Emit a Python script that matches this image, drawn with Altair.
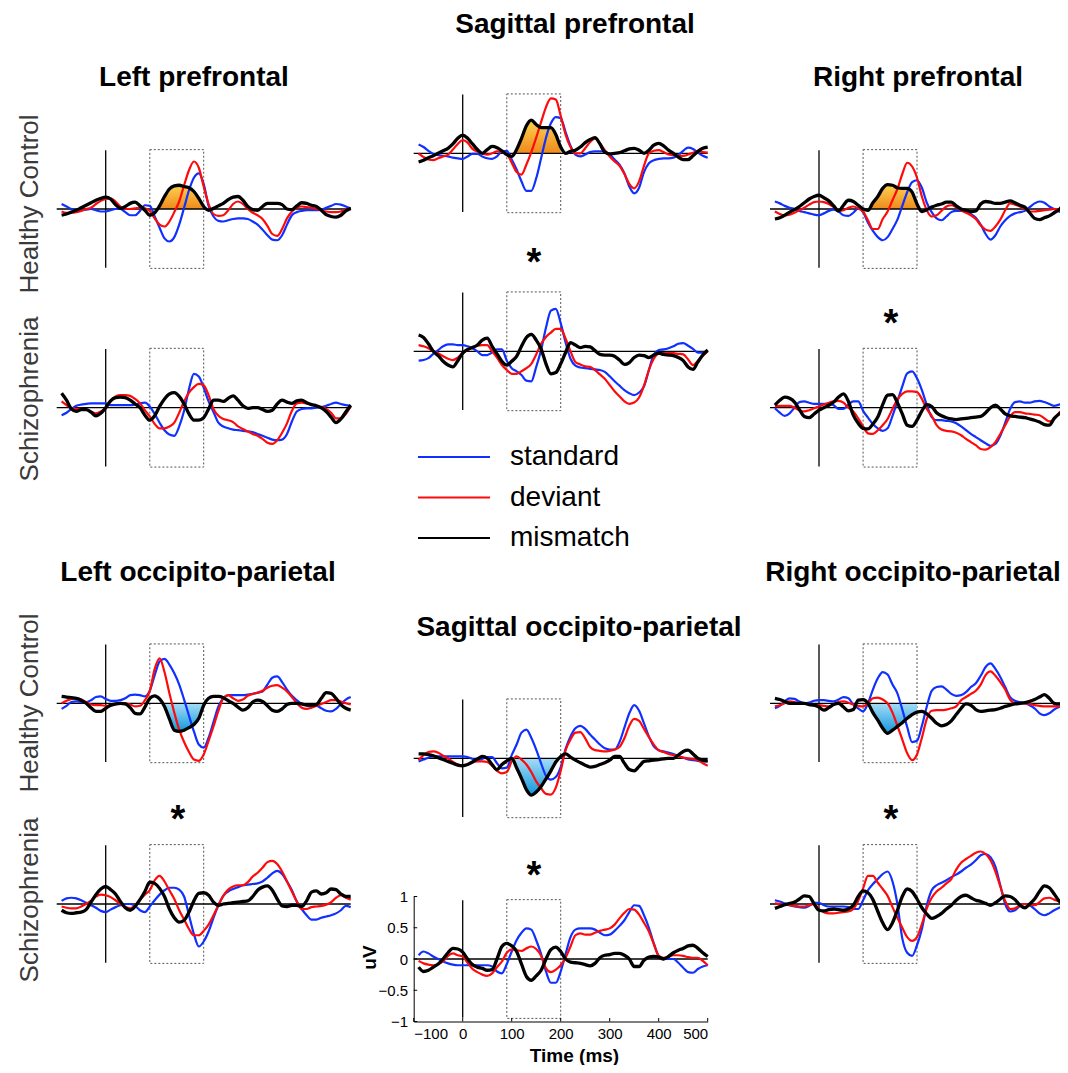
import altair as alt
import pandas as pd

T = list(range(-90, 501, 10))
SERIES_NAMES = ["standard", "deviant", "mismatch"]

# ---------------- Left prefrontal ----------------
LPF_HC_STD = [0.08, 0.04, 0.0, -0.02, -0.02, -0.01, 0.0, -0.02, -0.04, -0.04,
              -0.02, 0.0, 0.0, -0.05, -0.1, -0.1, -0.03, 0.06, 0.05, -0.12,
              -0.3, -0.47, -0.52, -0.45, -0.25, 0.02, 0.3, 0.5, 0.57, 0.4,
              0.05, -0.12, -0.19, -0.2, -0.18, -0.16, -0.15, -0.15, -0.16, -0.2,
              -0.25, -0.33, -0.42, -0.49, -0.5, -0.42, -0.25, -0.1, -0.05, -0.03,
              -0.02, -0.02, -0.02, -0.01, 0.02, 0.05, 0.08, 0.07, 0.04, 0.01]
LPF_HC_DEV = [-0.04, -0.06, -0.06, -0.05, -0.03, 0.0, 0.02, 0.08, 0.13, 0.16,
              0.17, 0.12, 0.04, 0.0, 0.0, 0.01, 0.02, 0.01, -0.03, -0.15,
              -0.25, -0.28, -0.2, -0.05, 0.12, 0.38, 0.62, 0.76, 0.66, 0.36,
              0.08, -0.08, -0.11, -0.1, -0.02, 0.08, 0.12, 0.08, 0.0, -0.06,
              -0.1, -0.16, -0.27, -0.4, -0.43, -0.32, -0.15, -0.04, 0.02, 0.04,
              0.03, 0.02, 0.0, -0.02, -0.04, -0.05, -0.05, -0.04, -0.01, 0.01]
LPF_HC_MIS = [-0.1, -0.08, -0.05, -0.02, 0.02, 0.06, 0.1, 0.14, 0.17, 0.19,
              0.16, 0.07, 0.01, 0.04, 0.09, 0.11, 0.05, -0.02, -0.1, -0.06,
              0.05, 0.2, 0.32, 0.37, 0.38, 0.36, 0.34, 0.28, 0.17, 0.04,
              -0.02, 0.01, 0.05, 0.09, 0.15, 0.19, 0.2, 0.14, 0.04, -0.01,
              -0.02, 0.04, 0.09, 0.09, 0.09, 0.07, 0.0, -0.01, 0.05, 0.1,
              0.09, 0.06, 0.04, -0.02, -0.09, -0.12, -0.13, -0.1, -0.03, 0.01]
LPF_SZ_STD = [-0.12, -0.08, -0.02, 0.03, 0.05, 0.06, 0.07, 0.07, 0.07, 0.07,
              0.04, 0.04, 0.04, 0.04, 0.04, 0.05, 0.07, 0.08, 0.02, -0.1,
              -0.24, -0.36, -0.43, -0.45, -0.3, -0.05, 0.3, 0.54, 0.5, 0.32,
              0.1, -0.07, -0.24, -0.3, -0.33, -0.35, -0.36, -0.37, -0.38, -0.39,
              -0.42, -0.45, -0.48, -0.51, -0.52, -0.51, -0.42, -0.22, -0.06, -0.02,
              -0.01, -0.01, 0.0, 0.01, 0.03, 0.06, 0.08, 0.06, 0.04, 0.03]
LPF_SZ_DEV = [0.1, 0.04, -0.01, -0.02, -0.02, -0.03, -0.06, -0.09, -0.06, 0.0,
              0.1, 0.18, 0.2, 0.2, 0.19, 0.14, 0.07, -0.04, -0.14, -0.26,
              -0.33, -0.33, -0.3, -0.24, -0.08, 0.1, 0.24, 0.33, 0.38, 0.36,
              0.2, -0.02, -0.13, -0.18, -0.2, -0.23, -0.3, -0.34, -0.38, -0.42,
              -0.45, -0.5, -0.56, -0.58, -0.52, -0.4, -0.25, -0.05, 0.07, 0.08,
              0.07, 0.05, 0.03, 0.01, -0.02, -0.08, -0.17, -0.17, -0.1, 0.02]
LPF_SZ_MIS = [0.23, 0.12, -0.02, -0.06, -0.03, -0.03, -0.07, -0.13, -0.09, 0.0,
              0.11, 0.16, 0.17, 0.16, 0.12, 0.06, 0.0, -0.12, -0.2, -0.13,
              0.02, 0.14, 0.22, 0.24, 0.18, 0.06, -0.1, -0.2, -0.2, -0.16,
              -0.02, 0.12, 0.12, 0.1, 0.15, 0.19, 0.12, 0.03, -0.01, 0.0,
              0.0, -0.03, -0.06, -0.04, 0.06, 0.12, 0.09, 0.07, 0.11, 0.12,
              0.08, 0.05, 0.03, 0.0, -0.06, -0.15, -0.24, -0.18, -0.07, 0.04]

# ---------------- Sagittal prefrontal ----------------
SPF_HC_STD = [0.14, 0.1, 0.04, -0.01, -0.03, -0.04, -0.05, -0.07, -0.08, -0.09,
              -0.05, -0.01, -0.01, -0.05, -0.08, -0.09, -0.05, 0.03, 0.04, -0.1,
              -0.26, -0.45, -0.6, -0.6, -0.4, -0.08, 0.25, 0.48, 0.58, 0.56,
              0.34, 0.12, -0.02, -0.05, -0.02, 0.02, 0.03, 0.03, 0.03, -0.02,
              -0.1, -0.18, -0.32, -0.53, -0.64, -0.55, -0.3, -0.16, -0.11, -0.09,
              -0.08, -0.08, -0.07, -0.03, 0.04, 0.09, 0.07, 0.01, -0.04, -0.07]
SPF_HC_DEV = [0.0, -0.06, -0.1, -0.11, -0.08, -0.05, -0.02, 0.06, 0.15, 0.21,
              0.17, 0.07, 0.03, 0.0, -0.02, 0.0, 0.03, 0.02, -0.01, -0.15,
              -0.3, -0.34, -0.18, 0.02, 0.25, 0.5, 0.74, 0.88, 0.86, 0.6,
              0.3, 0.1, 0.0, 0.0, 0.08, 0.18, 0.24, 0.16, 0.05, -0.05,
              -0.13, -0.2, -0.33, -0.49, -0.56, -0.45, -0.2, 0.0, 0.04, 0.05,
              0.02, -0.02, -0.03, -0.04, -0.04, -0.02, 0.01, 0.03, 0.02, 0.01]
SPF_HC_MIS = [-0.14, -0.11, -0.07, -0.04, 0.0, 0.04, 0.08, 0.15, 0.24, 0.29,
              0.24, 0.15, 0.06, 0.0, 0.06, 0.11, 0.09, 0.04, -0.02, -0.05,
              0.06, 0.24, 0.44, 0.53, 0.46, 0.41, 0.41, 0.41, 0.3, 0.1,
              0.0, 0.03, 0.05, 0.1, 0.17, 0.22, 0.25, 0.15, 0.02, -0.01,
              0.0, 0.01, 0.04, 0.07, 0.08, 0.05, 0.0, 0.05, 0.13, 0.16,
              0.12, 0.05, 0.0, -0.06, -0.1, -0.1, -0.04, 0.03, 0.08, 0.1]
SPF_SZ_STD = [-0.15, -0.14, -0.11, -0.04, 0.02, 0.08, 0.11, 0.11, 0.1, 0.1,
              0.08, 0.05, 0.0, -0.06, -0.06, -0.02, 0.03, 0.03, -0.15, -0.27,
              -0.32, -0.38, -0.47, -0.48, -0.25, 0.02, 0.38, 0.65, 0.68, 0.45,
              0.14, -0.12, -0.23, -0.26, -0.27, -0.28, -0.29, -0.3, -0.33, -0.4,
              -0.48, -0.55, -0.62, -0.67, -0.7, -0.66, -0.56, -0.3, -0.05, 0.02,
              0.03, 0.05, 0.08, 0.12, 0.13, 0.09, 0.04, -0.02, -0.02, 0.01]
SPF_SZ_DEV = [0.1, 0.08, 0.05, 0.0, -0.03, -0.08, -0.12, -0.14, -0.1, -0.03,
              0.02, 0.06, 0.09, 0.1, 0.1, 0.0, -0.1, -0.22, -0.3, -0.36,
              -0.36, -0.32, -0.27, -0.2, -0.05, 0.12, 0.23, 0.3, 0.36, 0.36,
              0.2, 0.0, -0.17, -0.21, -0.24, -0.25, -0.3, -0.37, -0.44, -0.54,
              -0.64, -0.72, -0.8, -0.84, -0.82, -0.74, -0.55, -0.3, -0.12, -0.04,
              -0.03, -0.03, -0.03, -0.04, -0.05, -0.13, -0.22, -0.15, -0.07, 0.0]
SPF_SZ_MIS = [0.26, 0.22, 0.12, 0.0, -0.07, -0.16, -0.22, -0.25, -0.15, -0.03,
              0.03, 0.06, 0.1, 0.18, 0.21, 0.08, -0.04, -0.16, -0.22, -0.16,
              -0.08, 0.08, 0.22, 0.27, 0.18, 0.04, -0.2, -0.36, -0.34, -0.2,
              -0.02, 0.14, 0.1, 0.06, 0.08, 0.07, 0.01, -0.05, -0.06, -0.06,
              -0.08, -0.14, -0.21, -0.18, -0.1, -0.06, -0.07, -0.1, -0.06, -0.03,
              -0.05, -0.06, -0.07, -0.1, -0.15, -0.25, -0.29, -0.17, -0.06, 0.02]

# ---------------- Right prefrontal ----------------
RPF_HC_STD = [0.12, 0.09, 0.05, 0.02, 0.0, -0.03, -0.05, -0.07, -0.09, -0.1,
              -0.07, -0.03, -0.01, -0.04, -0.1, -0.11, -0.06, 0.01, -0.05, -0.22,
              -0.35, -0.45, -0.5, -0.45, -0.32, -0.17, 0.05, 0.27, 0.43, 0.46,
              0.34, 0.1, -0.05, -0.15, -0.18, -0.12, -0.05, -0.03, -0.03, -0.04,
              -0.08, -0.14, -0.25, -0.4, -0.49, -0.42, -0.28, -0.18, -0.11, -0.07,
              -0.05, -0.03, 0.03, 0.09, 0.12, 0.1, 0.04, 0.0, -0.04, -0.07]
RPF_HC_DEV = [-0.04, -0.08, -0.1, -0.09, -0.06, -0.02, 0.02, 0.07, 0.11, 0.12,
              0.11, 0.08, 0.03, -0.03, -0.02, 0.02, 0.04, 0.01, -0.04, -0.18,
              -0.32, -0.32, -0.16, -0.04, 0.14, 0.32, 0.56, 0.74, 0.68, 0.5,
              0.2, -0.02, -0.12, -0.1, -0.03, 0.04, 0.06, 0.03, -0.02, -0.06,
              -0.1, -0.16, -0.26, -0.33, -0.35, -0.28, -0.17, -0.02, 0.09, 0.07,
              0.04, 0.0, -0.04, -0.04, -0.03, -0.02, -0.01, 0.0, 0.0, 0.0]
RPF_HC_MIS = [-0.16, -0.14, -0.1, -0.05, -0.01, 0.04, 0.1, 0.16, 0.2, 0.22,
              0.18, 0.13, 0.05, -0.03, 0.06, 0.14, 0.12, 0.06, 0.0, -0.02,
              0.1, 0.2, 0.33, 0.39, 0.38, 0.34, 0.33, 0.33, 0.27, 0.08,
              -0.04, -0.01, 0.03, 0.06, 0.08, 0.11, 0.11, 0.05, 0.0, -0.02,
              -0.04, -0.03, 0.08, 0.12, 0.11, 0.09, 0.09, 0.11, 0.13, 0.1,
              0.06, 0.03, -0.06, -0.15, -0.17, -0.14, -0.11, -0.06, -0.01, 0.08]
RPF_SZ_STD = [-0.01, -0.08, -0.13, -0.09, 0.0, 0.09, 0.1, 0.08, 0.06, 0.06,
              0.06, 0.06, 0.04, -0.02, -0.02, 0.05, 0.1, 0.1, -0.05, -0.16,
              -0.26, -0.33, -0.37, -0.33, -0.13, 0.1, 0.34, 0.55, 0.58, 0.47,
              0.28, 0.04, -0.15, -0.2, -0.2, -0.21, -0.22, -0.25, -0.3, -0.36,
              -0.42, -0.47, -0.52, -0.57, -0.61, -0.58, -0.45, -0.24, -0.02, 0.09,
              0.1, 0.08, 0.08, 0.1, 0.11, 0.09, 0.06, 0.03, 0.05, 0.07]
RPF_SZ_DEV = [0.02, 0.03, 0.03, 0.03, 0.0, -0.04, -0.06, -0.04, -0.01, 0.02,
              0.05, 0.08, 0.1, 0.11, 0.08, 0.0, -0.06, -0.17, -0.3, -0.41,
              -0.42, -0.36, -0.28, -0.18, -0.02, 0.13, 0.22, 0.26, 0.26, 0.25,
              0.14, -0.02, -0.13, -0.28, -0.35, -0.37, -0.38, -0.4, -0.44, -0.5,
              -0.55, -0.6, -0.66, -0.67, -0.63, -0.55, -0.42, -0.28, -0.14, -0.07,
              -0.07, -0.09, -0.1, -0.11, -0.12, -0.17, -0.22, -0.18, -0.08, -0.02]
RPF_SZ_MIS = [0.04, 0.12, 0.17, 0.15, 0.09, -0.03, -0.14, -0.16, -0.1, -0.04,
              0.0, 0.04, 0.09, 0.17, 0.22, 0.1, -0.12, -0.25, -0.33, -0.34,
              -0.26, -0.15, 0.05, 0.2, 0.21, 0.08, -0.1, -0.28, -0.3, -0.2,
              -0.05, 0.05, 0.02, -0.08, -0.13, -0.16, -0.18, -0.19, -0.18, -0.17,
              -0.16, -0.15, -0.14, -0.08, 0.0, 0.04, -0.02, -0.1, -0.13, -0.14,
              -0.15, -0.16, -0.18, -0.2, -0.23, -0.27, -0.28, -0.17, -0.1, -0.05]

# ---------------- Left occipito-parietal ----------------
LOP_HC_STD = [-0.09, -0.04, 0.02, 0.03, 0.02, 0.02, 0.05, 0.1, 0.11, 0.07,
              0.04, 0.04, 0.05, 0.08, 0.13, 0.14, 0.13, 0.11, 0.2, 0.45,
              0.67, 0.71, 0.62, 0.48, 0.3, 0.06, -0.2, -0.45, -0.66, -0.71,
              -0.55, -0.3, -0.05, 0.08, 0.13, 0.13, 0.13, 0.13, 0.14, 0.15,
              0.17, 0.19, 0.3, 0.41, 0.43, 0.34, 0.22, 0.12, 0.05, -0.01,
              -0.03, -0.04, -0.04, -0.08, -0.12, -0.13, -0.09, -0.01, 0.06, 0.1]
LOP_HC_DEV = [0.0, 0.04, 0.07, 0.08, 0.06, 0.02, -0.02, -0.03, -0.03, -0.04,
              -0.04, -0.02, 0.0, 0.0, -0.02, -0.05, -0.04, 0.05, 0.2, 0.55,
              0.72, 0.5, 0.16, -0.15, -0.42, -0.62, -0.78, -0.9, -0.92, -0.82,
              -0.6, -0.37, -0.12, 0.08, 0.13, 0.08, 0.04, 0.06, 0.12, 0.15,
              0.17, 0.2, 0.25, 0.28, 0.29, 0.25, 0.19, 0.1, 0.0, -0.07,
              -0.09, -0.07, -0.04, -0.01, 0.02, 0.05, 0.05, 0.03, 0.0, -0.02]
LOP_HC_MIS = [0.11, 0.1, 0.09, 0.08, 0.05, 0.0, -0.07, -0.13, -0.13, -0.08,
              -0.03, -0.01, 0.0, -0.01, -0.07, -0.16, -0.17, -0.06, 0.08, 0.12,
              0.07, -0.05, -0.25, -0.43, -0.45, -0.43, -0.39, -0.34, -0.24, -0.03,
              0.08, 0.11, 0.11, 0.09, 0.04, 0.0, -0.06, -0.11, -0.07, 0.02,
              0.05, 0.03, -0.04, -0.11, -0.13, -0.09, -0.02, 0.0, 0.0, -0.01,
              -0.03, -0.03, -0.02, 0.08, 0.17, 0.16, 0.08, -0.02, -0.08, -0.11]
LOP_SZ_STD = [0.05, 0.09, 0.1, 0.09, 0.06, 0.02, -0.02, -0.06, -0.11, -0.13,
              -0.09, -0.05, -0.02, 0.0, 0.0, -0.03, -0.1, -0.13, -0.04, 0.06,
              0.15, 0.22, 0.26, 0.26, 0.23, 0.12, -0.18, -0.48, -0.68, -0.6,
              -0.44, -0.22, -0.02, 0.13, 0.2, 0.24, 0.27, 0.3, 0.31, 0.32,
              0.33, 0.36, 0.42, 0.49, 0.53, 0.48, 0.36, 0.22, 0.04, -0.08,
              -0.18, -0.25, -0.25, -0.22, -0.2, -0.18, -0.15, -0.1, -0.03, -0.05]
LOP_SZ_DEV = [-0.04, -0.06, -0.07, -0.07, -0.04, 0.0, 0.05, 0.12, 0.15, 0.14,
              0.11, 0.06, 0.0, -0.05, -0.07, -0.02, 0.07, 0.15, 0.22, 0.38,
              0.45, 0.36, 0.22, 0.08, -0.1, -0.25, -0.4, -0.5, -0.5, -0.43,
              -0.33, -0.18, -0.02, 0.13, 0.23, 0.28, 0.3, 0.3, 0.35, 0.44,
              0.5, 0.58, 0.67, 0.69, 0.64, 0.52, 0.36, 0.2, 0.04, -0.08,
              -0.08, -0.05, -0.04, -0.03, -0.01, 0.03, 0.1, 0.14, 0.1, 0.07]
LOP_SZ_MIS = [-0.1, -0.14, -0.15, -0.14, -0.13, -0.09, 0.03, 0.15, 0.24, 0.28,
              0.23, 0.16, 0.04, -0.06, -0.1, -0.04, 0.07, 0.2, 0.35, 0.33,
              0.25, 0.12, -0.08, -0.22, -0.29, -0.26, -0.13, 0.05, 0.17, 0.18,
              0.14, 0.03, -0.02, 0.0, 0.01, 0.02, 0.03, 0.04, 0.05, 0.12,
              0.22, 0.27, 0.29, 0.22, 0.08, -0.03, -0.04, -0.02, -0.02, -0.04,
              0.05, 0.19, 0.21, 0.16, 0.18, 0.24, 0.23, 0.16, 0.12, 0.12]

# ---------------- Sagittal occipito-parietal ----------------
SOP_HC_STD = [-0.05, -0.02, 0.01, 0.03, 0.03, 0.03, 0.03, 0.03, 0.03, 0.03,
              0.02, -0.01, -0.03, -0.01, 0.02, 0.02, -0.08, -0.16, -0.15, 0.05,
              0.22, 0.41, 0.46, 0.33, 0.14, -0.08, -0.28, -0.34, -0.3, -0.14,
              0.15, 0.35, 0.48, 0.52, 0.47, 0.38, 0.3, 0.22, 0.16, 0.14,
              0.14, 0.26, 0.49, 0.72, 0.85, 0.76, 0.56, 0.35, 0.19, 0.13,
              0.11, 0.09, 0.07, 0.04, 0.01, -0.02, -0.03, -0.04, -0.05, -0.05]
SOP_HC_DEV = [-0.03, 0.05, 0.1, 0.11, 0.09, 0.04, 0.0, -0.06, -0.1, -0.12,
              -0.1, -0.06, -0.05, -0.05, -0.06, -0.12, -0.2, -0.24, -0.22, -0.05,
              0.03, -0.02, -0.1, -0.22, -0.37, -0.48, -0.57, -0.58, -0.47, -0.2,
              0.13, 0.3, 0.41, 0.42, 0.32, 0.18, 0.13, 0.12, 0.11, 0.12,
              0.14, 0.18, 0.32, 0.52, 0.63, 0.6, 0.47, 0.34, 0.22, 0.13,
              0.1, 0.07, 0.05, 0.03, 0.01, 0.0, -0.01, -0.03, -0.08, -0.12]
SOP_HC_MIS = [0.07, 0.07, 0.06, 0.04, 0.01, -0.02, -0.05, -0.08, -0.11, -0.12,
              -0.1, -0.06, -0.01, 0.03, 0.0, -0.1, -0.18, -0.1, -0.04, 0.0,
              -0.15, -0.32, -0.5, -0.59, -0.54, -0.45, -0.33, -0.2, -0.06, 0.03,
              0.07, 0.02, -0.03, -0.07, -0.11, -0.14, -0.13, -0.1, -0.07, -0.03,
              0.03, 0.03, -0.08, -0.18, -0.2, -0.13, -0.05, -0.04, -0.03, -0.02,
              -0.01, 0.0, 0.0, 0.05, 0.11, 0.13, 0.07, 0.0, -0.03, -0.04]
SOP_SZ_STD = [0.06, 0.12, 0.09, 0.04, 0.0, -0.04, -0.07, -0.09, -0.1, -0.1,
              -0.1, -0.1, -0.1, -0.1, -0.1, -0.12, -0.2, -0.23, -0.08, 0.12,
              0.3, 0.42, 0.49, 0.47, 0.3, 0.08, -0.2, -0.38, -0.38, -0.2,
              0.08, 0.35, 0.47, 0.49, 0.49, 0.49, 0.47, 0.42, 0.38, 0.39,
              0.45, 0.53, 0.62, 0.75, 0.86, 0.85, 0.7, 0.5, 0.25, 0.05,
              0.0, 0.0, 0.0, -0.06, -0.14, -0.21, -0.22, -0.16, -0.12, -0.1]
SOP_SZ_DEV = [-0.03, -0.07, -0.09, -0.1, -0.08, -0.04, 0.05, 0.09, 0.06, 0.04,
              -0.06, -0.16, -0.21, -0.25, -0.27, -0.23, -0.13, -0.04, 0.1, 0.15,
              0.14, 0.13, 0.17, 0.2, 0.16, 0.05, -0.15, -0.21, -0.17, -0.1,
              0.02, 0.2, 0.38, 0.41, 0.39, 0.39, 0.42, 0.45, 0.47, 0.49,
              0.55, 0.65, 0.74, 0.8, 0.79, 0.71, 0.58, 0.44, 0.24, 0.05,
              0.02, 0.04, 0.06, 0.06, 0.05, 0.03, 0.02, 0.02, -0.03, -0.1]
SOP_SZ_MIS = [-0.13, -0.2, -0.18, -0.13, -0.08, 0.0, 0.1, 0.17, 0.16, 0.11,
              0.0, -0.09, -0.13, -0.15, -0.18, -0.17, 0.0, 0.2, 0.25, 0.21,
              0.12, -0.08, -0.28, -0.34, -0.27, -0.18, 0.0, 0.15, 0.19, 0.12,
              0.0, -0.05, -0.06, -0.07, -0.09, -0.11, -0.07, 0.02, 0.06, 0.07,
              0.09, 0.09, 0.06, 0.0, -0.12, -0.12, -0.02, 0.03, 0.04, 0.03,
              0.0, 0.04, 0.1, 0.14, 0.17, 0.21, 0.22, 0.17, 0.1, 0.04]

# ---------------- Right occipito-parietal ----------------
ROP_HC_STD = [-0.08, -0.04, 0.03, 0.08, 0.07, 0.03, 0.0, 0.01, 0.04, 0.05,
              0.05, 0.04, 0.03, 0.06, 0.1, 0.08, -0.02, -0.08, -0.13, 0.0,
              0.22, 0.4, 0.5, 0.46, 0.3, 0.16, -0.1, -0.38, -0.62, -0.6,
              -0.36, -0.05, 0.2, 0.26, 0.27, 0.22, 0.15, 0.12, 0.13, 0.18,
              0.26, 0.32, 0.44, 0.58, 0.64, 0.55, 0.42, 0.26, 0.1, 0.04,
              0.02, 0.0, -0.03, -0.08, -0.16, -0.19, -0.16, -0.1, -0.06, -0.04]
ROP_HC_DEV = [-0.05, -0.03, 0.0, 0.03, 0.02, 0.0, 0.0, -0.02, -0.03, -0.03,
              -0.04, -0.05, -0.02, 0.02, 0.03, 0.01, -0.02, -0.04, -0.05, 0.0,
              0.08, 0.09, 0.06, 0.0, -0.15, -0.36, -0.58, -0.8, -0.91, -0.82,
              -0.55, -0.25, -0.12, -0.11, -0.11, -0.1, -0.08, -0.05, 0.05, 0.1,
              0.15, 0.2, 0.3, 0.45, 0.51, 0.44, 0.34, 0.22, 0.06, 0.0,
              0.0, 0.0, -0.01, -0.03, -0.04, -0.05, -0.05, -0.05, -0.05, -0.05]
ROP_HC_MIS = [0.08, 0.06, 0.03, 0.0, 0.0, 0.0, 0.0, -0.02, -0.03, -0.06,
              -0.11, -0.07, -0.02, 0.0, -0.06, -0.12, -0.1, 0.05, 0.06, 0.0,
              -0.15, -0.27, -0.4, -0.48, -0.43, -0.37, -0.31, -0.24, -0.18, -0.14,
              -0.13, -0.17, -0.24, -0.32, -0.36, -0.34, -0.28, -0.18, -0.08, -0.01,
              -0.03, -0.1, -0.13, -0.12, -0.11, -0.1, -0.08, -0.05, -0.03, -0.01,
              0.0, 0.01, 0.03, 0.06, 0.1, 0.14, 0.08, 0.0, -0.01, 0.02]
ROP_SZ_STD = [0.06, 0.04, 0.01, -0.02, -0.04, -0.05, -0.06, -0.03, 0.02, 0.02,
              -0.02, -0.04, -0.04, -0.04, -0.04, -0.05, -0.08, -0.08, 0.06, 0.22,
              0.32, 0.4, 0.48, 0.52, 0.36, 0.0, -0.55, -0.78, -0.83, -0.66,
              -0.4, -0.02, 0.22, 0.3, 0.34, 0.38, 0.43, 0.47, 0.52, 0.58,
              0.63, 0.7, 0.78, 0.8, 0.75, 0.6, 0.3, 0.0, -0.12, -0.1,
              -0.03, 0.0, -0.02, -0.08, -0.15, -0.18, -0.15, -0.1, -0.06, -0.03]
ROP_SZ_DEV = [0.01, 0.0, -0.01, -0.02, -0.03, -0.04, -0.04, -0.02, 0.0, -0.08,
              -0.13, -0.15, -0.15, -0.14, -0.13, -0.12, -0.08, 0.05, 0.25, 0.45,
              0.45, 0.34, 0.24, 0.13, -0.05, -0.22, -0.38, -0.53, -0.59, -0.53,
              -0.32, -0.07, 0.1, 0.2, 0.26, 0.33, 0.4, 0.55, 0.66, 0.72,
              0.77, 0.82, 0.84, 0.8, 0.7, 0.52, 0.28, 0.05, -0.08, -0.07,
              -0.02, 0.0, -0.02, -0.02, 0.03, 0.09, 0.1, 0.07, 0.04, 0.0]
ROP_SZ_MIS = [-0.07, -0.04, -0.01, 0.01, 0.03, 0.08, 0.13, 0.12, 0.0, -0.1,
              -0.11, -0.09, -0.08, -0.09, -0.1, -0.08, -0.02, 0.12, 0.21, 0.18,
              0.07, -0.12, -0.3, -0.41, -0.3, -0.1, 0.12, 0.24, 0.2, 0.08,
              -0.06, -0.16, -0.23, -0.2, -0.15, -0.08, -0.02, 0.06, 0.12, 0.14,
              0.1, 0.06, 0.04, 0.01, -0.02, 0.02, 0.08, 0.13, 0.12, 0.07,
              -0.02, -0.06, 0.0, 0.08, 0.2, 0.29, 0.26, 0.16, 0.05, -0.02]

SERIES = {
    "lpf_hc": (LPF_HC_STD, LPF_HC_DEV, LPF_HC_MIS),
    "lpf_sz": (LPF_SZ_STD, LPF_SZ_DEV, LPF_SZ_MIS),
    "spf_hc": (SPF_HC_STD, SPF_HC_DEV, SPF_HC_MIS),
    "spf_sz": (SPF_SZ_STD, SPF_SZ_DEV, SPF_SZ_MIS),
    "rpf_hc": (RPF_HC_STD, RPF_HC_DEV, RPF_HC_MIS),
    "rpf_sz": (RPF_SZ_STD, RPF_SZ_DEV, RPF_SZ_MIS),
    "lop_hc": (LOP_HC_STD, LOP_HC_DEV, LOP_HC_MIS),
    "lop_sz": (LOP_SZ_STD, LOP_SZ_DEV, LOP_SZ_MIS),
    "sop_hc": (SOP_HC_STD, SOP_HC_DEV, SOP_HC_MIS),
    "sop_sz": (SOP_SZ_STD, SOP_SZ_DEV, SOP_SZ_MIS),
    "rop_hc": (ROP_HC_STD, ROP_HC_DEV, ROP_HC_MIS),
    "rop_sz": (ROP_SZ_STD, ROP_SZ_DEV, ROP_SZ_MIS),
}

TITLES = ["Sagittal prefrontal", "Left prefrontal", "Right prefrontal",
          "Left occipito-parietal", "Right occipito-parietal",
          "Sagittal occipito-parietal"]
GROUPS = ["Healthy Control", "Schizophrenia"]
X_TICKS = [-100, 0, 100, 200, 300, 400, 500]
Y_TICKS = [-1, -0.5, 0, 0.5, 1]

rows = []
for key, arrs in SERIES.items():
    for name, arr in zip(SERIES_NAMES, arrs):
        assert len(arr) == len(T), (key, name, len(arr))
        for t, v in zip(T, arr):
            rows.append({"panel": key, "series": name, "t": t, "v": v})
DF = pd.DataFrame(rows)
ONE = pd.DataFrame({"k": [0]})
XT = pd.DataFrame({"tick": X_TICKS})
YT = pd.DataFrame({"ytick": Y_TICKS})

BLUE = "#1030ff"
RED = "#ff0a0a"
BLACK = "#000000"
ORANGE_FILL = alt.Gradient(gradient="linear", x1=0, y1=0, x2=0, y2=1,
                           stops=[alt.GradientStop(offset=0, color="#fcd24e"),
                                  alt.GradientStop(offset=1, color="#ee8a1e")])
BLUE_FILL = alt.Gradient(gradient="linear", x1=0, y1=0, x2=0, y2=1,
                         stops=[alt.GradientStop(offset=0, color="#a6dcf6"),
                                alt.GradientStop(offset=1, color="#1198dc")])

W, H = 1052, 1057
PX_MS = 0.49   # pixels per ms
PX_UV = 62.5   # pixels per uV
TICK_PX = 3.5

# panel key -> (pixel of t=0, pixel of v=0, fill)
GEOM = {
    "lpf_hc": (97.7, 201.0, "pos"),
    "lpf_sz": (97.7, 399.7, None),
    "spf_hc": (454.7, 145.3, "pos"),
    "spf_sz": (454.7, 343.3, None),
    "rpf_hc": (811.0, 201.0, "pos"),
    "rpf_sz": (811.0, 399.7, None),
    "lop_hc": (97.7, 695.3, "neg"),
    "lop_sz": (97.7, 896.0, None),
    "sop_hc": (454.7, 750.3, "neg"),
    "sop_sz": (454.7, 951.0, None),
    "rop_hc": (811.0, 695.3, "neg"),
    "rop_sz": (811.0, 896.0, None),
}
AXIS_PANEL = "sop_sz"


def panel(key):
    x0, y0, fill = GEOM[key]
    left_px = x0 - 100 * PX_MS
    bottom_px = y0 + PX_UV
    xs = alt.Scale(domain=[-100, 500], range=[left_px, x0 + 500 * PX_MS], nice=False, zero=False)
    ys = alt.Scale(domain=[-1, 1], range=[bottom_px, y0 - PX_UV], nice=False, zero=False)
    has_axes = key == AXIS_PANEL
    if has_axes:
        xaxis = alt.Axis(orient="bottom", offset=bottom_px - H, values=X_TICKS,
                         format="d", title="Time (ms)", grid=False, ticks=False,
                         labelFontSize=15, labelPadding=5, labelColor="black",
                         titleFontSize=19, titleFontWeight="bold", titleColor="black",
                         titleX=566, titleY=40, titleBaseline="alphabetic",
                         domainColor="black", domainWidth=1)
        yaxis = alt.Axis(orient="left", offset=-left_px, values=Y_TICKS,
                         format="~g", title="uV", grid=False, ticks=False,
                         labelFontSize=15, labelPadding=6, labelColor="black",
                         titleFontSize=19, titleFontWeight="bold", titleColor="black",
                         titleX=-38, titleY=y0 - 2, titleBaseline="alphabetic", titleAngle=270,
                         domainColor="black", domainWidth=1)
    else:
        xaxis = None
        yaxis = None
    src = alt.Chart(DF).transform_filter(alt.datum.panel == key)
    g = alt.Chart(ONE)
    layers = [
        g.mark_rect(filled=False, color="#555555", strokeDash=[2, 2], strokeWidth=1).encode(
            x=alt.XDatum(90, scale=xs, axis=xaxis), x2=alt.X2Datum(200),
            y=alt.YDatum(-0.95, scale=ys, axis=yaxis), y2=alt.Y2Datum(0.95)),
    ]
    if fill:
        expr = "max(datum.v, 0)" if fill == "pos" else "min(datum.v, 0)"
        layers.append(
            src.transform_filter((alt.datum.series == "mismatch") & (alt.datum.t >= 100) & (alt.datum.t <= 200))
            .transform_calculate(vc=expr)
            .mark_area(color=ORANGE_FILL if fill == "pos" else BLUE_FILL, interpolate="monotone")
            .encode(x=alt.X("t:Q", scale=xs, axis=xaxis), y=alt.Y("vc:Q", scale=ys, axis=yaxis),
                    y2=alt.Y2Datum(0)))
    layers.append(g.mark_rule(color=BLACK, strokeWidth=1.3).encode(
        x=alt.XDatum(-100, scale=xs, axis=xaxis), x2=alt.X2Datum(500),
        y=alt.YDatum(0, scale=ys, axis=yaxis)))
    layers.append(g.mark_rule(color=BLACK, strokeWidth=1.3).encode(
        x=alt.XDatum(0, scale=xs, axis=xaxis),
        y=alt.YDatum(-0.94, scale=ys, axis=yaxis), y2=alt.Y2Datum(0.94)))
    if has_axes:
        # inward tick marks, as in the original axes
        layers.append(alt.Chart(XT).mark_rule(color=BLACK, strokeWidth=1).encode(
            x=alt.X("tick:Q", scale=xs, axis=xaxis),
            y=alt.YDatum(-1, scale=ys, axis=yaxis), y2=alt.Y2Datum(-1 + TICK_PX / PX_UV)))
        layers.append(alt.Chart(YT).mark_rule(color=BLACK, strokeWidth=1).encode(
            x=alt.XDatum(-100, scale=xs, axis=xaxis), x2=alt.X2Datum(-100 + TICK_PX / PX_MS),
            y=alt.Y("ytick:Q", scale=ys, axis=yaxis)))
    for name, col, sw in zip(SERIES_NAMES, [BLUE, RED, BLACK], [2.2, 2.2, 3.3]):
        layers.append(
            src.transform_filter(alt.datum.series == name)
            .mark_line(color=col, strokeWidth=sw, interpolate="monotone")
            .encode(x=alt.X("t:Q", scale=xs, axis=xaxis), y=alt.Y("v:Q", scale=ys, axis=yaxis)))
    return alt.layer(*layers)


def label(txt, x, y, size, weight="bold", angle=0, color="black", align="center"):
    return alt.Chart(pd.DataFrame({"label": [txt]})).mark_text(
        fontSize=size, fontWeight=weight, angle=angle, color=color, align=align,
        baseline="alphabetic", font="Liberation Sans").encode(
        text="label:N", x=alt.value(x), y=alt.value(y))


panels = [panel(k) for k in GEOM]

texts = [
    label(TITLES[0], 567, 25, 28),
    label(TITLES[1], 186, 78, 28),
    label(TITLES[2], 910, 78, 28),
    label(TITLES[3], 190, 573, 28),
    label(TITLES[4], 905, 573, 28),
    label(TITLES[5], 571, 628, 28),
    label(GROUPS[0], 30, 196, 26, weight="normal", angle=270, color="#3a3a3a"),
    label(GROUPS[1], 30, 391, 26, weight="normal", angle=270, color="#3a3a3a"),
    label(GROUPS[0], 30, 695, 26, weight="normal", angle=270, color="#3a3a3a"),
    label(GROUPS[1], 30, 892, 26, weight="normal", angle=270, color="#3a3a3a"),
]
for cx, cy in [(526, 245), (883, 306), (170, 802), (883, 802), (526, 858)]:
    texts.append(label("*", cx, cy + 22, 38))

LEG = pd.DataFrame({"series": SERIES_NAMES})
leg_y = alt.Y("series:N", scale=alt.Scale(type="point", domain=SERIES_NAMES, range=[449, 530], padding=0),
              axis=None)
leg_color = alt.Color("series:N", scale=alt.Scale(domain=SERIES_NAMES, range=[BLUE, RED, BLACK]), legend=None)
legend_lines = alt.Chart(LEG).mark_rule().encode(
    x=alt.value(410), x2=alt.value(482), y=leg_y, color=leg_color,
    strokeWidth=alt.StrokeWidth("series:O", scale=alt.Scale(domain=SERIES_NAMES, range=[2.2, 2.2, 3.5]),
                                legend=None))
legend_text = alt.Chart(LEG).mark_text(align="left", baseline="middle", fontSize=28, color="black",
                                       font="Liberation Sans").encode(
    x=alt.value(502), y=leg_y, text="series:N")
legend = alt.layer(legend_lines, legend_text)

chart = alt.layer(*panels, legend, *texts).resolve_scale(
    x="independent", y="independent"
).properties(
    width=W, height=H, padding=0, autosize=alt.AutoSizeParams(type="none")
).configure(font="Liberation Sans").configure_view(stroke=None)

chart.save("out.html", embed_options={"renderer": "svg", "actions": False})
